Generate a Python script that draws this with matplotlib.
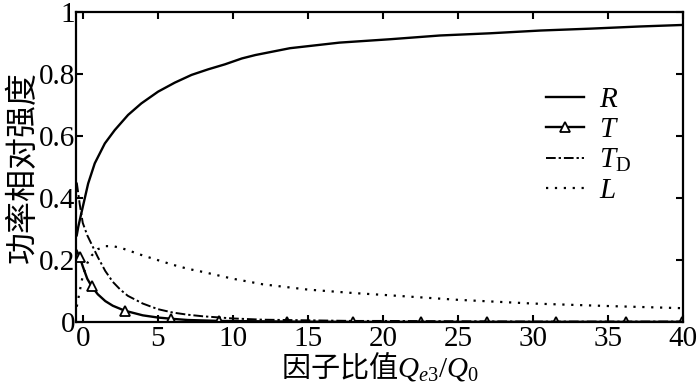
import matplotlib
matplotlib.use("Agg")
import matplotlib.pyplot as plt

# data
x_r = [-0.4, -0.3, -0.1, 0.36, 0.8, 1.47, 2.13, 3.02, 3.9, 5.02, 6.13, 7.25, 8.36, 9.47, 10.6,
       11.5, 13.8, 17.1, 20.5, 23.8, 27.1, 30.5, 33.8, 37.1, 40]
r_vals = [0.28, 0.307, 0.35, 0.447, 0.512, 0.576, 0.619, 0.668, 0.705, 0.743, 0.772, 0.797, 0.815,
          0.831, 0.85, 0.861, 0.883, 0.901, 0.912, 0.924, 0.931, 0.94, 0.946, 0.953, 0.958]

x_main = [-0.4, -0.2, 0, 0.3, 0.6, 1, 1.5, 2, 2.5, 3, 4, 5, 6, 7, 8, 10, 12, 15, 18, 20, 25, 30, 35, 40]
td_vals = [0.45, 0.38, 0.32, 0.28, 0.25, 0.21, 0.165, 0.13, 0.105, 0.085, 0.06, 0.042, 0.031, 0.024,
           0.019, 0.012, 0.008, 0.006, 0.004, 0.004, 0.003, 0.002, 0.002, 0.002]
l_vals = [0.05, 0.1, 0.15, 0.19, 0.215, 0.235, 0.245, 0.245, 0.24, 0.232, 0.215, 0.2, 0.185, 0.172,
          0.162, 0.14, 0.122, 0.105, 0.094, 0.088, 0.072, 0.06, 0.052, 0.045]

x_t = [-0.4, -0.2, 0, 0.3, 0.6, 1, 1.5, 2, 2.8, 4, 5, 5.9, 7, 9.1, 13.6, 18, 22.5, 26.9, 31.5, 36.2, 39.9, 40]
t_vals = [0.23, 0.21, 0.18, 0.14, 0.115, 0.09, 0.068, 0.053, 0.037, 0.022, 0.015, 0.011, 0.007, 0.004,
          0.002, 0.001, 0.001, 0.001, 0.001, 0.001, 0.001, 0.001]
t_marks = [1, 4, 8, 11, 13, 14, 15, 16, 17, 18, 19, 20]

x_ticks = [0, 5, 10, 15, 20, 25, 30, 35, 40]
y_ticks = [0, 0.2, 0.4, 0.6, 0.8, 1]
y_labels = ["0", "0.2", "0.4", "0.6", "0.8", "1"]

plt.rcParams["font.family"] = ["Liberation Serif", "Noto Sans CJK SC"]
plt.rcParams["mathtext.fontset"] = "custom"
plt.rcParams["mathtext.rm"] = "Liberation Serif"
plt.rcParams["mathtext.it"] = "Liberation Serif:italic"

fig = plt.figure(figsize=(7, 3.84), dpi=100)
ax = fig.add_axes([0.109, 0.161, 0.867, 0.808])

ax.plot(x_r, r_vals, color="black", lw=1.7, label="$R$")
ax.plot(x_t, t_vals, color="black", lw=1.7, marker="^", markevery=t_marks,
        ms=7.5, mfc="white", mec="black", mew=1.3, label="$T$")
ax.plot(x_main, td_vals, color="black", lw=1.4, dashes=(5, 1.5, 1.2, 1.5), label="$T_{\\mathrm{D}}$")
ax.plot(x_main, l_vals, color="black", lw=1.6, linestyle=(0, (1, 3)), label="$L$")

ax.set_xlim(-0.43, 40)
ax.set_ylim(0, 1)
ax.set_xticks(x_ticks)
ax.set_yticks(y_ticks)
ax.set_yticklabels(y_labels)
ax.tick_params(direction="in", length=5, width=1.5, top=True, right=True, labelsize=21)
ax.tick_params(axis="x", pad=3)
ax.tick_params(axis="y", pad=1)
for s in ax.spines.values():
    s.set_linewidth(1.6)

ax.set_xlabel("因子比值$Q_{e3}/Q_{0}$", fontsize=21, family=["Noto Sans CJK SC"], labelpad=-1)
ax.set_ylabel("功率相对强度", fontsize=23, family=["Noto Sans CJK SC"], labelpad=0)

ax.legend(loc="upper left", bbox_to_anchor=(0.75, 0.805), frameon=False, fontsize=21,
          handlelength=1.3, labelspacing=0.12, handletextpad=0.5, borderpad=0)

fig.savefig("out.png", dpi=100)
